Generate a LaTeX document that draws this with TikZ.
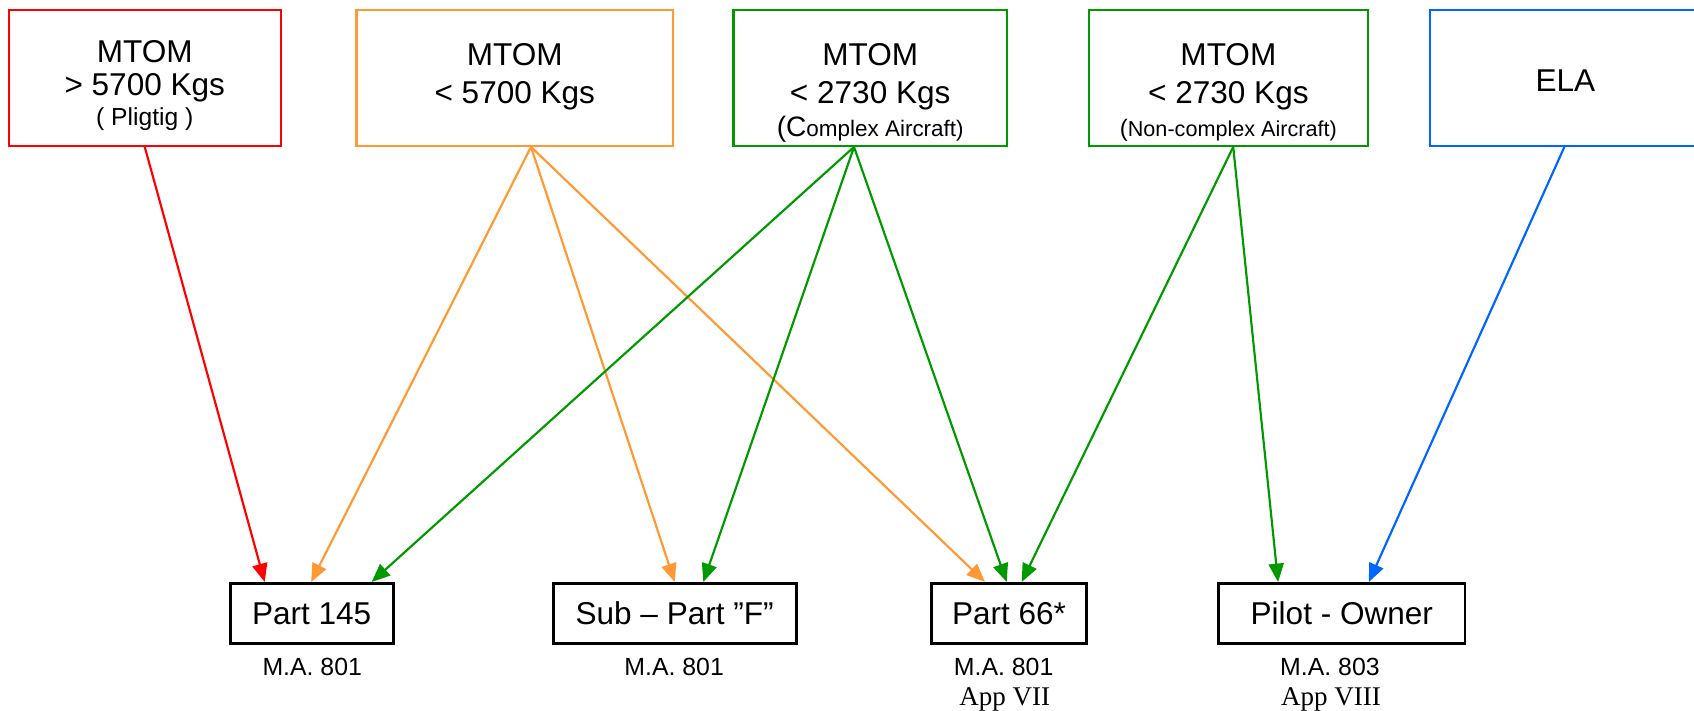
\documentclass[tikz,border=0pt]{standalone}
\usepackage{fontspec}
\setmainfont{Liberation Sans}
\newfontfamily\serifx{Liberation Serif}
\usetikzlibrary{arrows.meta}
\definecolor{cred}{RGB}{255,0,0}
\definecolor{corange}{RGB}{255,153,51}
\definecolor{cgreen}{RGB}{0,153,0}
\definecolor{cblue}{RGB}{0,102,255}
\begin{document}
\begin{tikzpicture}[x=0.5pt,y=-0.5pt,
  topbox/.style={draw=#1, line width=1pt, minimum height=63pt, inner sep=0pt},
  botbox/.style={draw=black, line width=1.3pt, minimum height=28pt, inner sep=0pt},
  bigtxt/.style={font=\fontsize{14.6}{16}\selectfont, anchor=base, inner sep=0pt},
  midtxt/.style={font=\fontsize{11.4}{13}\selectfont, anchor=base, inner sep=0pt},
  matxt/.style={font=\fontsize{11.5}{13}\selectfont, anchor=base, inner sep=0pt},
  apptxt/.style={font=\serifx\fontsize{12.5}{14}\selectfont, anchor=base, inner sep=0pt},
  arr/.style={draw=#1, line width=1pt, -{Triangle[length=8.5pt,width=7pt]}}
]
\useasboundingbox (0,0) rectangle (1568,658);

% top boxes
\node[topbox=cred, minimum width=126pt] (red) at (134,72) {};
\node[topbox=corange, minimum width=146.5pt] (orange) at (476.5,72) {};
\node[topbox=cgreen, minimum width=126.5pt] (green) at (805.5,72) {};
\node[topbox=cgreen, minimum width=129pt] (greenb) at (1137,72) {};
\node[topbox=cblue, minimum width=143pt] (ela) at (1467,72) {};

% top texts
\node[bigtxt] (r1) at (134,58) {MTOM};
\node[bigtxt] (r2) at (134,88) {> 5700 Kgs};
\node[midtxt] (r3) at (134,116) {( Pligtig )};
\node[bigtxt] (o1) at (476.5,61) {MTOM};
\node[bigtxt] (o2) at (476.5,96) {< 5700 Kgs};
\node[bigtxt] (g1) at (805.5,61) {MTOM};
\node[bigtxt] (g2) at (805.5,96) {< 2730 Kgs};
\node[anchor=base, inner sep=0pt] (g3) at (805.5,126) {{\fontsize{13}{14}\selectfont (C}{\fontsize{10.4}{12}\selectfont omplex Aircraft)}};
\node[bigtxt] (h1) at (1137,61) {MTOM};
\node[bigtxt] (h2) at (1137,96) {< 2730 Kgs};
\node[anchor=base, inner sep=0pt] (h3) at (1137,126) {{\fontsize{11}{12}\selectfont (}{\fontsize{10}{12}\selectfont Non-complex Aircraft)}};
\node[bigtxt] (elatxt) at (1449,85) {ELA};
\coordinate (elaout) at ([xshift=-9.5pt]ela.south);

% bottom boxes
\node[botbox, minimum width=75.5pt] (p145) at (288.5,568) {};
\node[botbox, minimum width=112.5pt] (subf) at (624.5,568) {};
\node[botbox, minimum width=72pt] (p66) at (934,568) {};
\node[botbox, minimum width=114pt] (pilot) at (1242,568) {};
\node[bigtxt] (t145) at (288.5,578.5) {Part 145};
\node[bigtxt] (tsubf) at (624.5,578.5) {Sub – Part ”F”};
\node[bigtxt] (t66) at (934,578.5) {Part 66*};
\node[bigtxt] (tpilot) at (1242,578.5) {Pilot - Owner};

% sub labels
\node[matxt] (m145) at (289,625) {M.A. 801};
\node[matxt] (msubf) at (624,625) {M.A. 801};
\node[matxt] (m66) at (929,625) {M.A. 801};
\node[apptxt] (a66) at (930,653) {App VII};
\node[matxt] (mpilot) at (1231,625) {M.A. 803};
\node[apptxt] (apilot) at (1232,653) {App VIII};

% arrows
\draw[arr=cred] (red.south) -- ([xshift=-21.75pt]p145.north);
\draw[arr=corange] ([xshift=7.5pt]orange.south) -- ([xshift=-0.25pt]p145.north);
\draw[arr=corange] ([xshift=7.5pt]orange.south) -- (subf.north);
\draw[arr=corange] ([xshift=7.5pt]orange.south) -- ([xshift=-11.15pt]p66.north);
\draw[arr=cgreen] ([xshift=-7.5pt]green.south) -- ([xshift=27.75pt]p145.north);
\draw[arr=cgreen] ([xshift=-7.5pt]green.south) -- ([xshift=13.25pt]subf.north);
\draw[arr=cgreen] ([xshift=-7.5pt]green.south) -- ([xshift=-1.1pt]p66.north);
\draw[arr=cgreen] ([xshift=2.25pt]greenb.south) -- ([xshift=5.85pt]p66.north);
\draw[arr=cgreen] ([xshift=2.25pt]greenb.south) -- ([xshift=-29.5pt]pilot.north);
\draw[arr=cblue] (elaout) -- ([xshift=12.5pt]pilot.north);
\end{tikzpicture}
\end{document}
